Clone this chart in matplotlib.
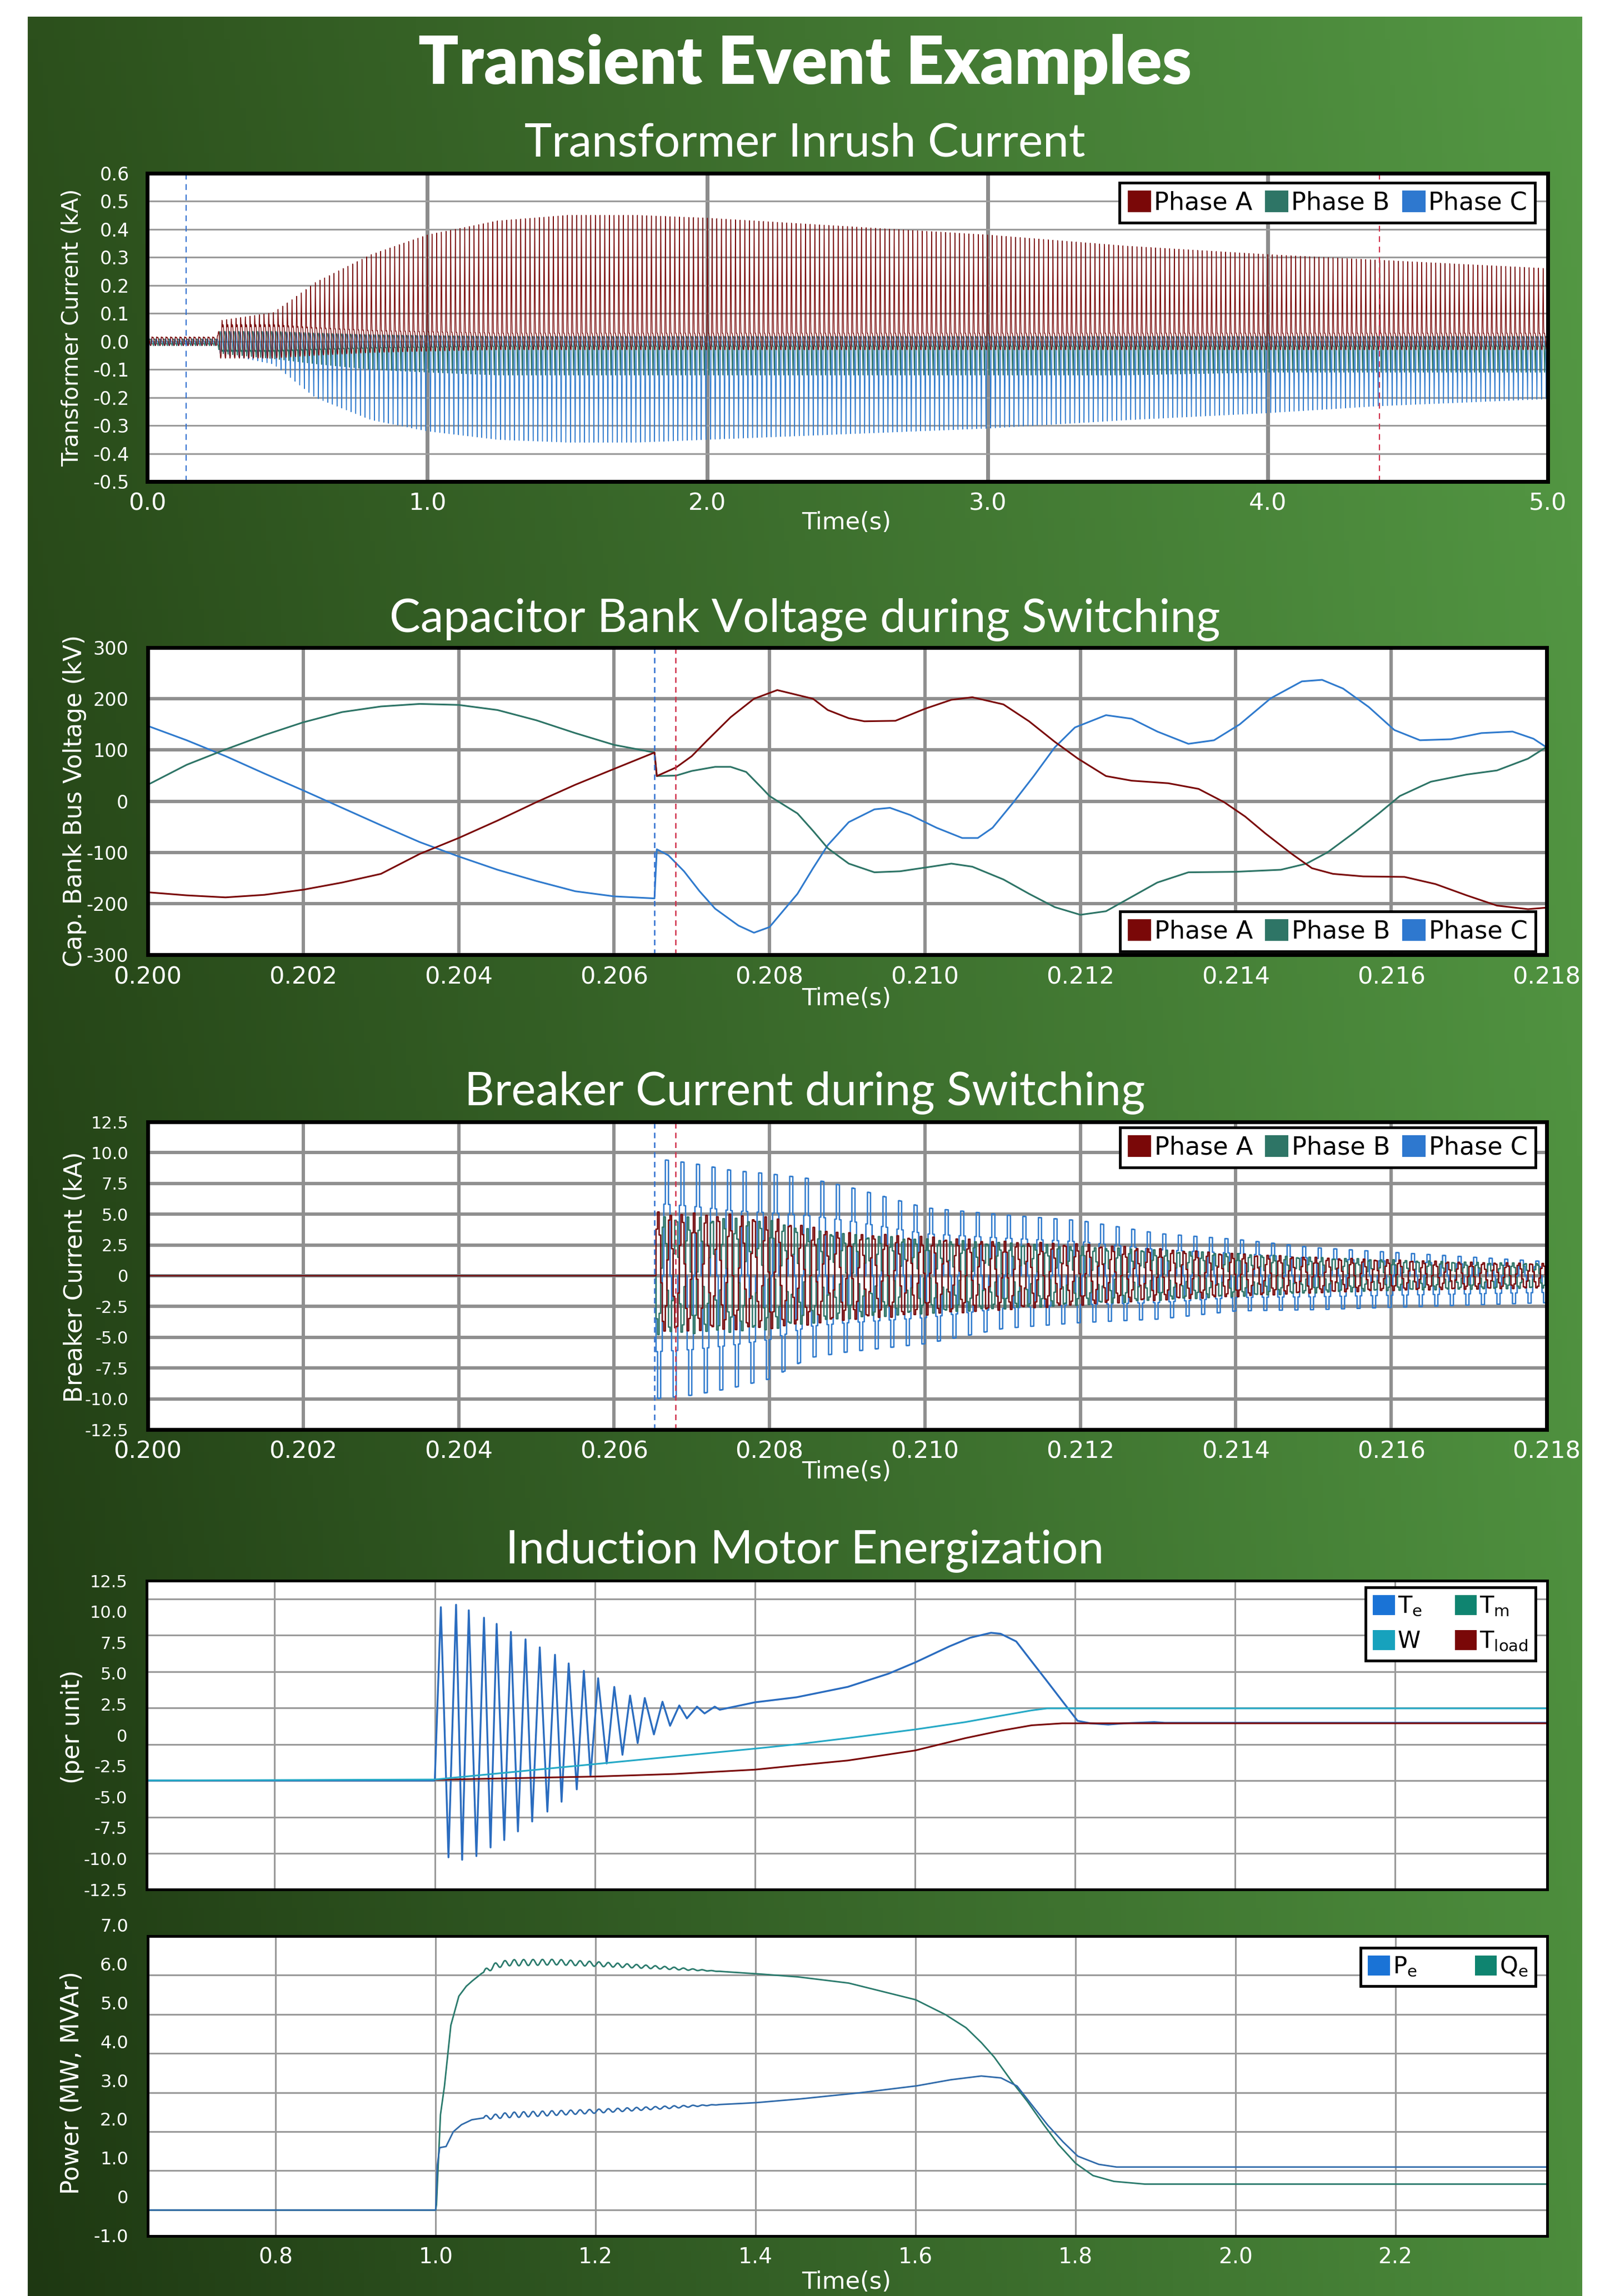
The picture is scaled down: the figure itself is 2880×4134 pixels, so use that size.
import numpy as np
import matplotlib.pyplot as plt
import matplotlib.transforms as mtransforms
from matplotlib.patches import Patch

plt.rcParams['font.family'] = ['DejaVu Sans']
plt.rcParams['mathtext.default'] = 'regular'

W, H, DPI = 2880, 4134, 100

# colours
RED = '#7a0a0a'
TEAL = '#2d7466'
BLUE = '#2f7acd'
TE_BLUE = '#2a6cbf'
W_CYAN = '#25a9c6'
TM_TEAL = '#0f8470'
QE_TEAL = '#2a7a6c'
PE_BLUE = '#2f6aaa'

# ---- transformer inrush: envelopes (kA)
inrush_t = [0.0, 0.25, 0.26, 0.45, 0.60, 0.80, 1.00, 1.25, 1.50, 1.75, 2.00, 2.50, 3.00, 3.50, 4.00, 4.40, 5.00]
inrush_peak_a = [0.015, 0.015, 0.07, 0.10, 0.21, 0.31, 0.38, 0.43, 0.45, 0.45, 0.44, 0.41, 0.38, 0.34, 0.31, 0.29, 0.26]
inrush_peak_b = [0.015, 0.015, 0.04, 0.06, 0.08, 0.10, 0.11, 0.12, 0.12, 0.12, 0.12, 0.12, 0.12, 0.12, 0.11, 0.11, 0.11]
inrush_peak_c = [0.015, 0.015, 0.04, 0.08, 0.20, 0.28, 0.32, 0.35, 0.36, 0.36, 0.35, 0.33, 0.31, 0.28, 0.255, 0.23, 0.205]
inrush_band = [0.015, 0.015, 0.06, 0.06, 0.05, 0.04, 0.035, 0.03, 0.03, 0.03, 0.03, 0.03, 0.03, 0.03, 0.03, 0.03, 0.03]
inrush_yticks = [-0.5, -0.4, -0.3, -0.2, -0.1, 0.0, 0.1, 0.2, 0.3, 0.4, 0.5, 0.6]
inrush_xticks = [0.0, 1.0, 2.0, 3.0, 4.0, 5.0]
F_SYS = 60.0
INRUSH_MARK_BLUE = 0.138
INRUSH_MARK_RED = 4.40

# ---- capacitor bank voltage (kV)
cap_a_t = [0.2000, 0.2005, 0.2010, 0.2015, 0.2020, 0.2025, 0.2030, 0.2035, 0.2040, 0.2045, 0.2050, 0.2055,
           0.2060, 0.20652, 0.20655, 0.2068, 0.2070, 0.2072, 0.2075, 0.2078, 0.2081, 0.20856, 0.20875, 0.20902,
           0.20922, 0.20962, 0.21001, 0.21034, 0.21061, 0.21101, 0.21134, 0.21167, 0.21197, 0.21233, 0.21266,
           0.21313, 0.21352, 0.21385, 0.21412, 0.21438, 0.21472, 0.21498, 0.21525, 0.21564, 0.21617, 0.21657,
           0.21697, 0.21736, 0.21776, 0.2180]
cap_a_v = [-178, -184, -188, -183, -173, -159, -142, -103, -72, -38, -2, 32,
           63, 95, 49, 66, 88, 119, 164, 200, 217, 200, 178, 162,
           156, 157, 181, 198, 203, 189, 156, 116, 83, 49, 40,
           35, 24, -2, -30, -63, -103, -131, -142, -147, -148, -162,
           -184, -204, -211, -208]
cap_b_t = [0.2000, 0.2005, 0.2010, 0.2015, 0.2020, 0.2025, 0.2030, 0.2035, 0.2040, 0.2045, 0.2050, 0.2055,
           0.2060, 0.20652, 0.20655, 0.2068, 0.2070, 0.2073, 0.2075, 0.2077, 0.2079, 0.2080, 0.20836, 0.20856,
           0.20875, 0.20902, 0.20935, 0.20968, 0.21008, 0.21034, 0.21061, 0.21101, 0.21134, 0.21167, 0.21200,
           0.21233, 0.21266, 0.21299, 0.21339, 0.21399, 0.21458, 0.21491, 0.21518, 0.21551, 0.21584, 0.21611,
           0.21651, 0.21697, 0.21736, 0.21776, 0.2180]
cap_b_v = [32, 71, 101, 129, 154, 174, 185, 190, 188, 178, 158, 133,
           110, 95, 49, 50, 59, 67, 67, 57, 26, 10, -24, -58,
           -92, -122, -139, -137, -128, -122, -128, -153, -181, -207, -222,
           -215, -187, -159, -139, -138, -134, -122, -100, -63, -24, 10,
           38, 52, 60, 83, 106]
cap_c_t = [0.2000, 0.2005, 0.2010, 0.2015, 0.2020, 0.2025, 0.2030, 0.2035, 0.2040, 0.2045, 0.2050, 0.2055,
           0.2060, 0.20652, 0.20655, 0.2067, 0.2069, 0.2071, 0.2073, 0.2076, 0.2078, 0.2080, 0.20836, 0.20856,
           0.20875, 0.20902, 0.20935, 0.20955, 0.20981, 0.21015, 0.21048, 0.21068, 0.21087, 0.21114, 0.2114,
           0.21167, 0.21193, 0.21233, 0.21266, 0.21299, 0.21339, 0.21372, 0.21405, 0.21445, 0.21485, 0.21511,
           0.21538, 0.21571, 0.21604, 0.21637, 0.21677, 0.21716, 0.21756, 0.21783, 0.2180]
cap_c_v = [147, 119, 88, 54, 21, -13, -47, -80, -108, -134, -156, -176,
           -186, -190, -94, -106, -137, -176, -210, -243, -257, -246, -181, -131,
           -86, -41, -16, -13, -27, -52, -72, -72, -52, -2, 49,
           105, 144, 168, 161, 136, 112, 119, 150, 201, 234, 237,
           220, 184, 139, 119, 121, 133, 136, 122, 105]
sw_xticks = [0.200, 0.202, 0.204, 0.206, 0.208, 0.210, 0.212, 0.214, 0.216, 0.218]
cap_yticks = [-300, -200, -100, 0, 100, 200, 300]
SW_MARK_BLUE = 0.20652
SW_MARK_RED = 0.20679

# ---- breaker current envelopes (kA)
brk_t = [0.20652, 0.2070, 0.2075, 0.2080, 0.2085, 0.2090, 0.2100, 0.2110, 0.2120, 0.2130, 0.2140, 0.2150, 0.2160, 0.2170, 0.2180]
brk_c_pos = [10.0, 9.6, 9.0, 8.7, 8.3, 7.6, 5.8, 5.2, 4.7, 3.6, 3.1, 2.4, 2.0, 1.6, 1.2]
brk_c_neg = [10.5, 10.2, 9.6, 8.8, 7.0, 6.5, 5.8, 4.5, 4.0, 3.7, 3.0, 2.9, 2.7, 2.5, 2.3]
brk_a_pos = [5.2, 5.1, 5.0, 4.8, 4.0, 3.5, 3.2, 2.8, 2.6, 2.2, 1.8, 1.5, 1.3, 1.1, 1.0]
brk_a_neg = [4.6, 4.5, 4.4, 4.3, 4.0, 3.6, 3.2, 2.8, 2.4, 2.0, 1.7, 1.4, 1.2, 1.1, 1.0]
brk_b_pos = [4.9, 4.8, 4.7, 4.5, 3.8, 3.4, 3.0, 2.7, 2.4, 2.1, 1.8, 1.5, 1.3, 1.1, 1.0]
brk_b_neg = [4.8, 4.7, 4.6, 4.4, 3.9, 3.5, 3.1, 2.7, 2.4, 2.0, 1.7, 1.4, 1.2, 1.1, 1.0]
brk_yticks = [-12.5, -10.0, -7.5, -5.0, -2.5, 0, 2.5, 5.0, 7.5, 10.0, 12.5]
brk_ylabels = ['-12.5', '-10.0', '-7.5', '-5.0', '-2.5', '0', '2.5', '5.0', '7.5', '10.0', '12.5']
F_BRK_C = 5000.0
F_BRK_AB = 6500.0
BRK_DT = 2e-5

# ---- induction motor torques (per unit)
te_t = [0.64, 1.000, 1.0076, 1.0171, 1.0266, 1.0342, 1.0425, 1.0520, 1.0615, 1.0697, 1.0773, 1.0868,
        1.0951, 1.1039, 1.1134, 1.1217, 1.1312, 1.1407, 1.1502, 1.1584, 1.1673, 1.1774, 1.1863, 1.1946,
        1.2041, 1.2148, 1.2243, 1.2345, 1.2440, 1.2535, 1.2624, 1.2738, 1.2845, 1.2940, 1.3055, 1.3150,
        1.3276, 1.3371, 1.3498, 1.3561, 1.400, 1.452, 1.516, 1.567, 1.600, 1.643, 1.669, 1.695, 1.707,
        1.7265, 1.7457, 1.7649, 1.784, 1.8032, 1.8192, 1.8415, 1.8607, 1.899, 1.912, 2.39]
te_v = [-3.68, -3.68, 10.35, -9.9, 10.55, -10.1, 10.1, -9.8, 9.5, -9.1, 9.0, -8.5,
        8.35, -7.8, 7.75, -7.0, 7.1, -6.2, 6.5, -5.4, 5.8, -4.4, 5.2, -3.3,
        4.6, -2.3, 3.9, -1.6, 3.2, -0.65, 3.0, 0.05, 2.7, 0.75, 2.4, 1.35,
        2.3, 1.75, 2.3, 2.05, 2.65, 3.06, 3.9, 4.97, 5.87, 7.18, 7.88, 8.28, 8.2,
        7.58, 5.97, 4.37, 2.76, 1.15, 0.95, 0.85, 0.95, 1.05, 0.99, 0.99]
w_t = [0.64, 1.0, 1.2, 1.4, 1.452, 1.516, 1.6, 1.663, 1.707, 1.746, 1.765, 2.39]
w_v = [-3.68, -3.6, -2.35, -1.1, -0.75, -0.25, 0.45, 1.05, 1.56, 2.0, 2.16, 2.16]
tl_t = [1.0, 1.2, 1.3, 1.4, 1.452, 1.516, 1.6, 1.663, 1.707, 1.746, 1.784, 2.39]
tl_v = [-3.62, -3.36, -3.15, -2.8, -2.46, -2.06, -1.25, -0.25, 0.35, 0.79, 0.95, 0.95]
motor_xticks = [0.8, 1.0, 1.2, 1.4, 1.6, 1.8, 2.0, 2.2]
torque_yticks = [-12.5, -10.0, -7.5, -5.0, -2.5, 0, 2.5, 5.0, 7.5, 10.0, 12.5]
torque_ylabels = ['-12.5', '-10.0', '-7.5', '-5.0', '-2.5', '0', '2.5', '5.0', '7.5', '10.0', '12.5']
torque_grid = [11.03, 8.09, 5.14, 2.19, -0.75, -3.70, -6.65, -9.59]

# ---- induction motor power (MW, MVAr)
qe_t = [0.64, 1.0, 1.001, 1.006, 1.011, 1.019, 1.029, 1.038, 1.045, 1.057, 1.073, 1.09, 1.15, 1.2, 1.28,
        1.34, 1.4, 1.452, 1.516, 1.6, 1.637, 1.663, 1.682, 1.698, 1.72, 1.739, 1.758, 1.778, 1.8, 1.822,
        1.848, 1.886, 2.39]
qe_v = [-0.30, -0.30, -0.16, 2.16, 2.9, 4.47, 5.22, 5.47, 5.6, 5.8, 6.0, 6.08, 6.1, 6.05, 5.96,
        5.88, 5.8, 5.72, 5.56, 5.13, 4.75, 4.41, 4.03, 3.66, 3.03, 2.53, 1.97, 1.41, 0.91, 0.59,
        0.44, 0.37, 0.37]
pe_t = [0.64, 1.0, 1.002, 1.005, 1.013, 1.022, 1.032, 1.045, 1.064, 1.09, 1.2, 1.28, 1.4, 1.452, 1.528,
        1.6, 1.643, 1.682, 1.707, 1.727, 1.746, 1.765, 1.784, 1.803, 1.829, 1.851, 2.39]
pe_v = [-0.30, -0.30, 0.84, 1.31, 1.34, 1.72, 1.9, 2.03, 2.09, 2.15, 2.25, 2.34, 2.47, 2.56, 2.72,
        2.9, 3.06, 3.16, 3.11, 2.9, 2.4, 1.9, 1.47, 1.09, 0.88, 0.81, 0.81]
ripple_t = [1.06, 1.10, 1.20, 1.30, 1.36]
ripple_q = [0.06, 0.08, 0.06, 0.03, 0.0]
ripple_p = [0.05, 0.07, 0.05, 0.03, 0.0]
F_RIPPLE = 85.0
power_ticks = [-1.0, 0, 1.0, 2.0, 3.0, 4.0, 5.0, 6.0, 7.0]
power_labels = ['-1.0', '0', '1.0', '2.0', '3.0', '4.0', '5.0', '6.0', '7.0']
power_grid = [5.77, 4.75, 3.74, 2.73, 1.73, 0.72, -0.30]

phase_labels = ['Phase A', 'Phase B', 'Phase C']
phase_colors = ['#7a0808', '#2e7566', '#2e78cf']


def box(x0, y0, x1, y1):
    return [x0 / W, 1 - y1 / H, (x1 - x0) / W, (y1 - y0) / H]


def frame(ax, lw=5):
    ax.set_facecolor('white')
    for s in ax.spines.values():
        s.set_linewidth(lw)
        s.set_color('black')
        s.set_zorder(5)
    ax.set_axisbelow(True)
    ax.tick_params(length=0, labelcolor='white')


def legend(ax, labels, colors, loc, anchor, size, ncol, colspace=0.5, rowspace=0.3):
    handles = [Patch(facecolor=c, edgecolor='none') for c in colors]
    lg = ax.legend(handles, labels, loc=loc, bbox_to_anchor=anchor, ncol=ncol, fontsize=size,
                   frameon=True, fancybox=False, framealpha=1, edgecolor='black', borderaxespad=0,
                   handlelength=0.95, handleheight=0.95, handletextpad=0.12, columnspacing=colspace,
                   borderpad=0.32, labelspacing=rowspace)
    lg.get_frame().set_linewidth(3.5)
    lg.set_zorder(10)


def ftext(x, y, s, **kw):
    fig.text(x / W, 1 - y / H, s, ha='center', va='center', color='white', **kw)


fig = plt.figure(figsize=(W / DPI, H / DPI), dpi=DPI, facecolor='white')

# green backdrop
bg = fig.add_axes(box(50, 30, 2848, H))
gx = np.linspace(0, 1, 300)[None, :, None]
gy = np.linspace(0, 1, 100)[:, None, None]
left = np.array([44, 80, 28]) * (1 - gy) + np.array([30, 56, 18]) * gy
right = np.array([84, 152, 68]) * (1 - gy) + np.array([76, 140, 60]) * gy
bg.imshow((left * (1 - gx) + right * gx) / 255, aspect='auto', extent=(0, 1, 0, 1))
bg.axis('off')

ftext(1449, 116, 'Transient Event Examples', fontsize=86, weight='heavy', family=['Lato', 'DejaVu Sans'])
TITLE_KW = dict(fontsize=60, weight='normal', family=['Lato', 'DejaVu Sans'])
ftext(1449, 259, 'Transformer Inrush Current', **TITLE_KW)
ftext(1449, 1115, 'Capacitor Bank Voltage during Switching', **TITLE_KW)
ftext(1449, 1967, 'Breaker Current during Switching', **TITLE_KW)
ftext(1449, 2792, 'Induction Motor Energization', **TITLE_KW)

ftext(130, 590, 'Transformer Current (kA)', fontsize=29, rotation=90)
ftext(135, 1442, 'Cap. Bank Bus Voltage (kV)', fontsize=31.5, rotation=90)
ftext(135, 2299, 'Breaker Current (kA)', fontsize=31.5, rotation=90)
ftext(130, 3109, '(per unit)', fontsize=31.5, rotation=90)
ftext(130, 3750, 'Power (MW, MVAr)', fontsize=31.5, rotation=90)

ftext(1524, 941, 'Time(s)', fontsize=31)
ftext(1524, 1798, 'Time(s)', fontsize=31)
ftext(1524, 2650, 'Time(s)', fontsize=31)
ftext(1524, 4109, 'Time(s)', fontsize=31)

# ---------- 1) transformer inrush
ax1 = fig.add_axes(box(265, 312, 2786, 867))
frame(ax1)
t1 = np.linspace(0, 5, 5 * 60 * 48 + 1)
th = 2 * np.pi * F_SYS * t1
band = np.interp(t1, inrush_t, inrush_band)


def spike(shift):
    return np.clip(np.cos(th + shift), 0, None) ** 6


ia = np.interp(t1, inrush_t, inrush_peak_a) * spike(0) + band * np.sin(th)
ib = -np.interp(t1, inrush_t, inrush_peak_b) * spike(-2 * np.pi / 3) + 0.6 * band * np.sin(th - 2 * np.pi / 3)
ic = -np.interp(t1, inrush_t, inrush_peak_c) * spike(2 * np.pi / 3) + 0.6 * band * np.sin(th + 2 * np.pi / 3)
ax1.plot(t1, ic, color=BLUE, lw=1.0)
ax1.plot(t1, ib, color=TEAL, lw=1.1)
ax1.plot(t1, ia, color=RED, lw=1.0)
ax1.axvline(INRUSH_MARK_BLUE, color='#2f6fd0', lw=1.5, ls=(0, (5, 4)))
ax1.axvline(INRUSH_MARK_RED, color='#d0304a', lw=1.5, ls=(0, (5, 4)))
ax1.set_xlim(0, 5)
ax1.set_ylim(-0.5, 0.6)
ax1.set_xticks(inrush_xticks, [f'{v:.1f}' for v in inrush_xticks], fontsize=31)
ax1.set_yticks(inrush_yticks, [f'{v:.1f}' for v in inrush_yticks], fontsize=24)
ax1.tick_params(axis='x', pad=13)
ax1.tick_params(axis='y', pad=23)
ax1.yaxis.grid(True, color='#9b9b9b', lw=2.2)
ax1.xaxis.grid(True, color='#8c8c8c', lw=5)
legend(ax1, phase_labels, phase_colors, 'upper right', (0.991, 0.969), 32, 3)

# ---------- 2) capacitor bank voltage
ax2 = fig.add_axes(box(266, 1166, 2784, 1719))
frame(ax2)
ax2.plot(cap_c_t, cap_c_v, color=BLUE, lw=2.2)
ax2.plot(cap_b_t, cap_b_v, color=TEAL, lw=2.2)
ax2.plot(cap_a_t, cap_a_v, color=RED, lw=2.2)
ax2.axvline(SW_MARK_BLUE, color='#2f6fd0', lw=1.8, ls=(0, (4, 3)))
ax2.axvline(SW_MARK_RED, color='#d0304a', lw=1.8, ls=(0, (4, 3)))
ax2.set_xlim(0.200, 0.218)
ax2.set_ylim(-300, 300)
ax2.set_xticks(sw_xticks, [f'{v:.3f}' for v in sw_xticks], fontsize=31)
ax2.set_yticks(cap_yticks, [str(v) for v in cap_yticks], fontsize=24)
ax2.tick_params(axis='x', pad=14)
ax2.tick_params(axis='y', pad=25)
ax2.grid(True, color='#8f8f8f', lw=4.3)
legend(ax2, phase_labels, phase_colors, 'lower right', (0.992, 0.011), 32, 3)

# ---------- 3) breaker current
ax3 = fig.add_axes(box(266, 2020, 2784, 2574))
frame(ax3)
tb = np.arange(0.200, 0.21801, BRK_DT)
on = tb >= brk_t[0]


def ring(freq, pos, neg, phase):
    s = np.sin(2 * np.pi * freq * (tb - brk_t[0]) + phase)
    y = np.where(s > 0, np.interp(tb, brk_t, pos) * s, np.interp(tb, brk_t, neg) * s)
    return np.where(on, y, 0.0)


ax3.plot(tb, ring(F_BRK_C, brk_c_pos, brk_c_neg, np.pi), color=BLUE, lw=1.8, drawstyle='steps-post')
ax3.plot(tb, ring(F_BRK_AB, brk_b_pos, brk_b_neg, np.pi), color=TEAL, lw=1.8, drawstyle='steps-post')
ax3.plot(tb, ring(F_BRK_AB, brk_a_pos, brk_a_neg, 0.0), color=RED, lw=1.8, drawstyle='steps-post')
ax3.axvline(SW_MARK_BLUE, color='#2f6fd0', lw=1.8, ls=(0, (4, 3)))
ax3.axvline(SW_MARK_RED, color='#d0304a', lw=1.8, ls=(0, (4, 3)))
ax3.set_xlim(0.200, 0.218)
ax3.set_ylim(-12.5, 12.5)
ax3.set_xticks(sw_xticks, [f'{v:.3f}' for v in sw_xticks], fontsize=31)
ax3.set_yticks(brk_yticks, brk_ylabels, fontsize=22)
ax3.tick_params(axis='x', pad=13)
ax3.tick_params(axis='y', pad=25)
ax3.grid(True, color='#8f8f8f', lw=4.3)
legend(ax3, phase_labels, phase_colors, 'upper right', (0.992, 0.982), 32, 3)

# ---------- 4) motor torques
ax4 = fig.add_axes(box(264, 2846, 2785, 3402))
frame(ax4, lw=3.5)
for g in torque_grid:
    ax4.axhline(g, color='#9a9a9a', lw=2.2, zorder=0.5)
ax4.plot(te_t, te_v, color=TE_BLUE, lw=2.4)
ax4.plot(tl_t, tl_v, color=RED, lw=2.2)
ax4.plot(w_t, w_v, color=W_CYAN, lw=2.2)
ax4.set_xlim(0.64, 2.39)
ax4.set_ylim(-12.5, 12.5)
ax4.set_xticks(motor_xticks, [''] * len(motor_xticks))
ax4.set_yticks(torque_yticks, torque_ylabels, fontsize=22)
ax4.tick_params(axis='y', pad=25)
ax4.xaxis.grid(True, color='#9a9a9a', lw=2.2)
legend(ax4, ['T$_e$', 'W', 'T$_m$', 'T$_{load}$'], ['#1a73d6', '#17a2bd', TM_TEAL, '#7a0808'],
       'upper right', (0.9917, 0.978), 30, 2, colspace=1.4, rowspace=0.5)

# ---------- 5) motor power
ax5 = fig.add_axes(box(266, 3486, 2785, 4026))
frame(ax5, lw=3.5)
for g in power_grid:
    ax5.axhline(g, color='#9a9a9a', lw=2.2, zorder=0.5)
tp = np.linspace(0.64, 2.39, 7001)
wig = np.sin(2 * np.pi * F_RIPPLE * (tp - ripple_t[0]))
q_line = np.interp(tp, qe_t, qe_v) + np.interp(tp, ripple_t, ripple_q, left=0, right=0) * wig
p_line = np.interp(tp, pe_t, pe_v) + np.interp(tp, ripple_t, ripple_p, left=0, right=0) * wig
ax5.plot(tp, q_line, color=QE_TEAL, lw=2.0)
ax5.plot(tp, p_line, color=PE_BLUE, lw=2.0)
ax5.set_xlim(0.64, 2.39)
ax5.set_ylim(-0.97, 6.77)
ax5.set_xticks(motor_xticks, [f'{v:.1f}' for v in motor_xticks], fontsize=28)
ax5.tick_params(axis='x', pad=14)
ax5.set_yticks([])
trans = mtransforms.blended_transform_factory(ax5.transAxes, ax5.transData)
for v, lab in zip(power_ticks, power_labels):
    ax5.text(-0.0139, v, lab, transform=trans, ha='right', va='center', color='white',
             fontsize=23, clip_on=False)
ax5.xaxis.grid(True, color='#9a9a9a', lw=2.2)
legend(ax5, ['P$_e$', 'Q$_e$'], ['#1a73d6', TM_TEAL], 'upper right', (0.9917, 0.961), 30, 2, colspace=2.5)

fig.savefig('out.png', dpi=DPI, facecolor='white')
